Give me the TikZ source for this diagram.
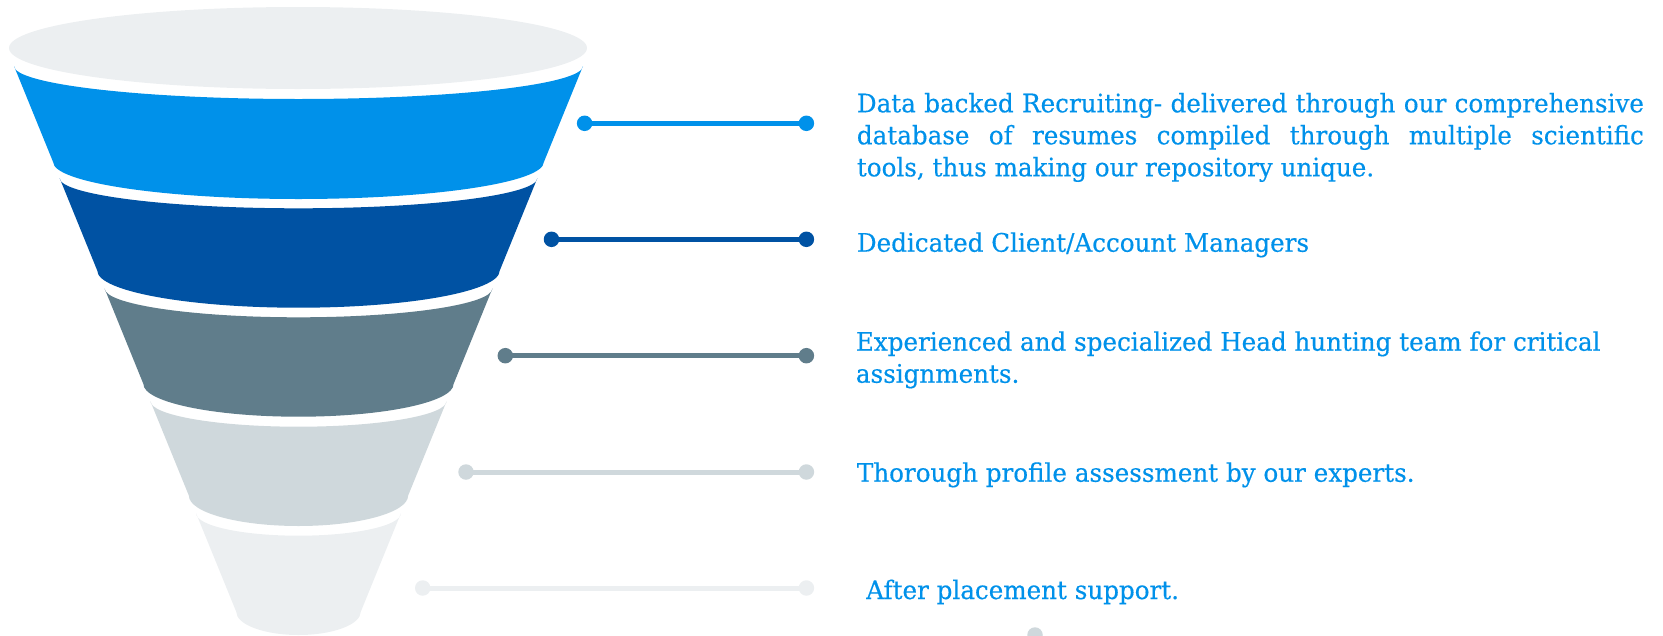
\documentclass[tikz,border=0pt]{standalone}
\usepackage{fontspec}
\setmainfont{DejaVu Serif}[FakeStretch=0.965,FakeBold=0.4]
\definecolor{cA}{HTML}{0091EA}
\definecolor{cB}{HTML}{0052A3}
\definecolor{cC}{HTML}{607D8B}
\definecolor{cD}{HTML}{CFD8DC}
\definecolor{cE}{HTML}{ECEFF1}
\definecolor{txt}{HTML}{0091EA}
\newcommand\funlayer[7]{%
  \fill[#1] ({298.5-#3},#2) arc[start angle=180,end angle=360,x radius=#3pt,y radius=#4pt]
    -- ({298.5+#6},#5) arc[start angle=0,end angle=-180,x radius=#6pt,y radius=#7pt] -- cycle;}
\begin{document}
\begin{tikzpicture}[x=1pt,y=-1pt,
  dot/.style={circle,inner sep=0pt,minimum size=15.5pt},
  link/.style={line width=5pt},
  lbl/.style={anchor=base west,inner sep=0pt,text=txt,font=\fontsize{25.5}{32}\selectfont}]
\useasboundingbox (0,0) rectangle (1663,635);
\clip (0,0) rectangle (1663,635);
% funnel
\fill[cE] (298,48) ellipse[x radius=289pt,y radius=41pt];
\funlayer{cA}{66}{284.5}{33}{162}{245.4}{37}
\funlayer{cB}{178}{238.9}{30.3}{270.7}{201.2}{37}
\funlayer{cC}{288.3}{194.0}{29}{384}{155.1}{32.7}
\funlayer{cD}{401}{148.2}{25.7}{495.7}{109.6}{30.3}
\funlayer{cE}{513.3}{102.4}{22.4}{611.7}{62.3}{23.3}
% connectors
\node[dot,fill=cA] (a1) at (584.6,123.3) {};
\node[dot,fill=cA] (b1) at (806.4,123.3) {};
\draw[link,cA] (a1.center) -- (b1.center);
\node[dot,fill=cB] (a2) at (551.5,239.3) {};
\node[dot,fill=cB] (b2) at (806.4,239.3) {};
\draw[link,cB] (a2.center) -- (b2.center);
\node[dot,fill=cC] (a3) at (505.3,355.7) {};
\node[dot,fill=cC] (b3) at (806.4,355.7) {};
\draw[link,cC] (a3.center) -- (b3.center);
\node[dot,fill=cD] (a4) at (466,472) {};
\node[dot,fill=cD] (b4) at (806.4,472) {};
\draw[link,cD] (a4.center) -- (b4.center);
\node[dot,fill=cE] (a5) at (422.7,588) {};
\node[dot,fill=cE] (b5) at (806.4,588) {};
\draw[link,cE] (a5.center) -- (b5.center);
\node[dot,fill=cD] (stray) at (1035,635) {};
% texts
\node[lbl] (t1) at (856.7,112.3) {\parbox[t]{787pt}{%
  \makebox[787pt][s]{Data backed Recruiting- delivered through our comprehensive}\\
  \makebox[787pt][s]{database of resumes compiled through multiple scientific}\\
  tools, thus making our repository unique.}};
\node[lbl] (t2) at (856.7,251.7) {Dedicated Client/Account Managers};
\node[lbl] (t3) at (855.7,350.7) {\parbox[t]{800pt}{Experienced and specialized Head hunting team for critical\\ assignments.}};
\node[lbl] (t4) at (856.7,481.7) {Thorough profile assessment by our experts.};
\node[lbl] (t5) at (866,599) {After placement support.};
\end{tikzpicture}
\end{document}
